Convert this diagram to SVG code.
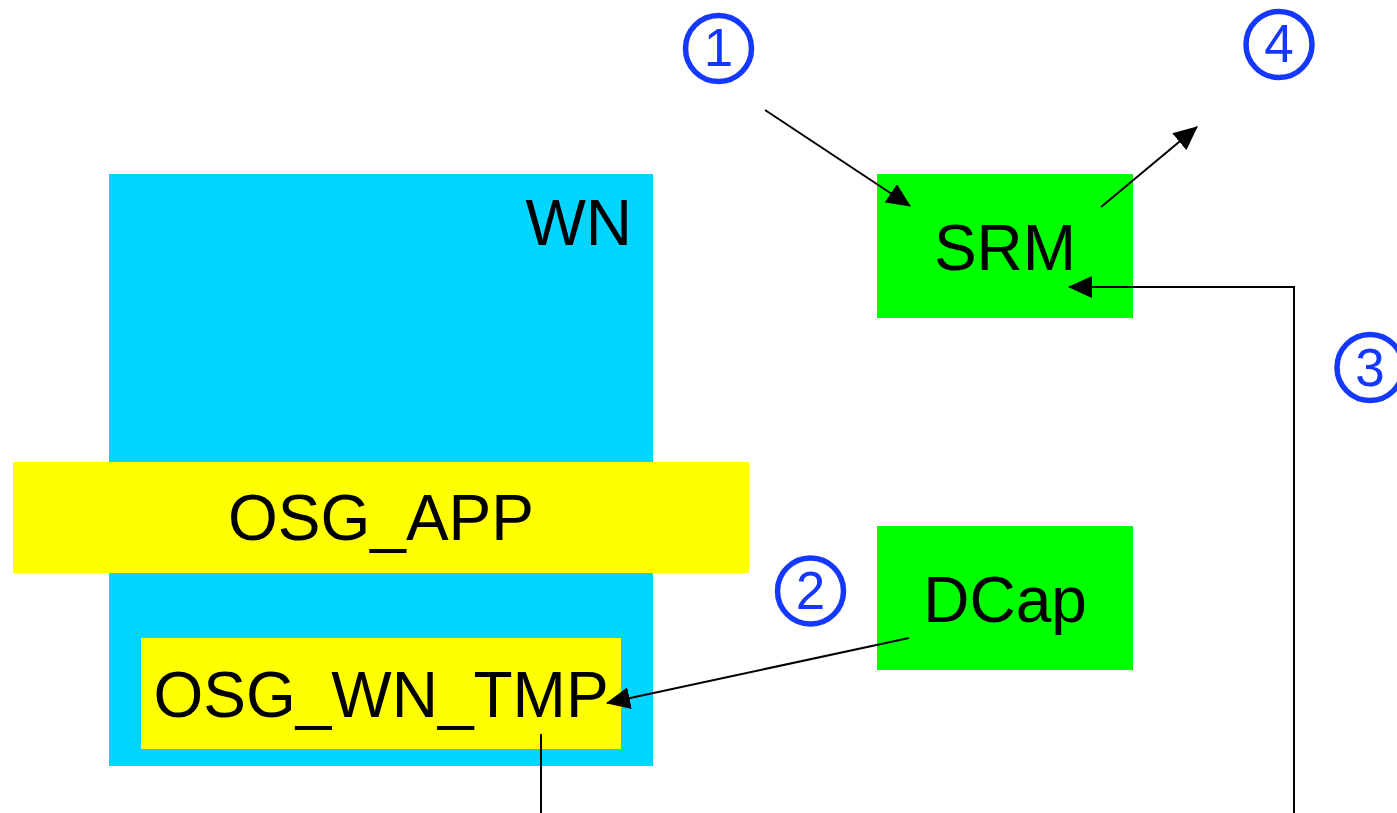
<svg xmlns="http://www.w3.org/2000/svg" width="1397" height="813" viewBox="0 0 1397 813">
  <style>
    .lbl { font-family: "Liberation Sans", Arial, sans-serif; font-size: 64px; fill: #000; }
    .num { font-family: "Liberation Sans", Arial, sans-serif; font-size: 53px; fill: #1538ff; text-anchor: middle; }
    .ring { fill: none; stroke: #1538ff; stroke-width: 5.5; }
    .wire { fill: none; stroke: #000; stroke-width: 2; }
  </style>
  <defs>
    <!-- solid triangular arrowhead, fixed size in user units -->
    <marker id="arrow" markerUnits="userSpaceOnUse" markerWidth="24" markerHeight="22" refX="23" refY="11" orient="auto">
      <path d="M0,0 L24,11 L0,22 Z" fill="#000"/>
    </marker>
  </defs>
  <rect width="1397" height="813" fill="#fff"/>

  <g id="wn">
    <rect x="109" y="174" width="544" height="592" fill="#00d5ff"/>
    <text class="lbl" x="632" y="245" text-anchor="end">WN</text>
  </g>
  <g id="osg_app">
    <rect x="13" y="462" width="736" height="111" fill="#ffff00"/>
    <text class="lbl" x="381" y="540" text-anchor="middle">OSG_APP</text>
  </g>
  <g id="osg_wn_tmp">
    <rect x="141" y="638" width="480" height="111" fill="#ffff00"/>
    <text class="lbl" x="381" y="717" text-anchor="middle">OSG_WN_TMP</text>
  </g>
  <g id="srm">
    <rect x="877" y="174" width="256" height="144" fill="#00ff00"/>
    <text class="lbl" x="1005" y="270" text-anchor="middle">SRM</text>
  </g>
  <g id="dcap">
    <rect x="877" y="526" width="256" height="144" fill="#00ff00"/>
    <text class="lbl" x="1005" y="622" text-anchor="middle">DCap</text>
  </g>

  <g id="connectors">
    <line class="wire" x1="765" y1="110" x2="910" y2="206" marker-end="url(#arrow)"/>
    <line class="wire" x1="1101" y1="207" x2="1197" y2="127" marker-end="url(#arrow)"/>
    <polyline class="wire" points="1294,813 1294,287 1069,287" marker-end="url(#arrow)"/>
    <line class="wire" x1="909" y1="638" x2="607" y2="703" marker-end="url(#arrow)"/>
    <line class="wire" x1="541" y1="734" x2="541" y2="813"/>
  </g>

  <g id="step1">
    <circle class="ring" cx="718.5" cy="48.5" r="33"/>
    <text class="num" x="718.5" y="66">1</text>
  </g>
  <g id="step2">
    <circle class="ring" cx="810.5" cy="591" r="33"/>
    <text class="num" x="810.5" y="609">2</text>
  </g>
  <g id="step3">
    <circle class="ring" cx="1370" cy="367.5" r="33"/>
    <text class="num" x="1370" y="386">3</text>
  </g>
  <g id="step4">
    <circle class="ring" cx="1279" cy="44.5" r="33"/>
    <text class="num" x="1279" y="62">4</text>
  </g>
</svg>
